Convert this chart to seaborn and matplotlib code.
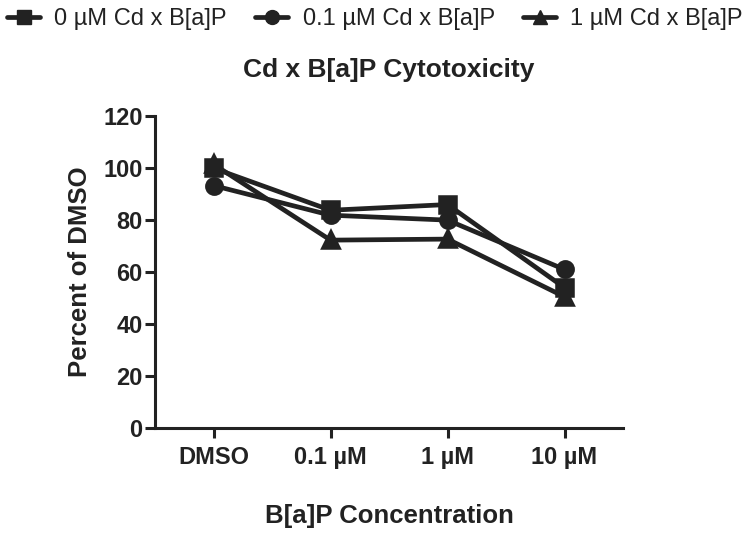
import pandas as pd
import matplotlib.pyplot as plt
import seaborn as sns

concentrations = ["DMSO", "0.1 µM", "1 µM", "10 µM"]
series_names = ["0 µM Cd x B[a]P", "0.1 µM Cd x B[a]P", "1 µM Cd x B[a]P"]
cd_0 = [100.0, 83.8, 86.0, 54.0]
cd_01 = [93.3, 81.9, 80.0, 61.0]
cd_1 = [101.5, 72.3, 72.7, 50.5]

df = pd.DataFrame({
    "conc": concentrations * 3,
    "pct": cd_0 + cd_01 + cd_1,
    "series": [s for s in series_names for _ in concentrations],
})

sns.set_style("ticks")
plt.rcParams["font.family"] = ["Liberation Sans", "DejaVu Sans"]

ink = "#222222"
fig = plt.figure(figsize=(7.5, 5.33), dpi=100)
ax = fig.add_axes([0.2067, 0.197, 0.624, 0.585])

sns.pointplot(data=df, x="conc", y="pct", hue="series", order=concentrations,
              hue_order=series_names, palette=[ink] * 3, markers=["s", "o", "^"],
              linestyles="-", dodge=False, errorbar=None, ax=ax,
              markersize=11, linewidth=3.4, legend=False)

ax.set_ylim(0, 120)
ax.set_xlim(-0.5, 3.5)
ax.set_yticks(range(0, 121, 20))
sns.despine(ax=ax)
for sp in ["left", "bottom"]:
    ax.spines[sp].set_linewidth(2.2)
    ax.spines[sp].set_color(ink)
ax.tick_params(axis="both", width=2.2, length=7, color=ink, labelsize=17, labelcolor=ink)
ax.tick_params(axis="x", pad=6)
ax.tick_params(axis="y", pad=2)
for lab in ax.get_xticklabels() + ax.get_yticklabels():
    lab.set_fontweight("bold")

ax.set_title("Cd x B[a]P Cytotoxicity", fontsize=19, fontweight="bold", color=ink, pad=28)
ax.set_ylabel("Percent of DMSO", fontsize=18.5, fontweight="bold", color=ink, labelpad=8)
ax.set_xlabel("B[a]P Concentration", fontsize=18.5, fontweight="bold", color=ink, labelpad=25)

handles = [plt.Line2D([], [], color=ink, marker=m, markersize=10, linewidth=3.4)
           for m in ["s", "o", "^"]]
fig.legend(handles, series_names, loc="upper center", bbox_to_anchor=(0.5, 1.025),
           ncol=3, frameon=False, fontsize=17, handlelength=1.4, columnspacing=1.2,
           handletextpad=0.6, labelcolor=ink)

fig.savefig("out.png", dpi=100)
